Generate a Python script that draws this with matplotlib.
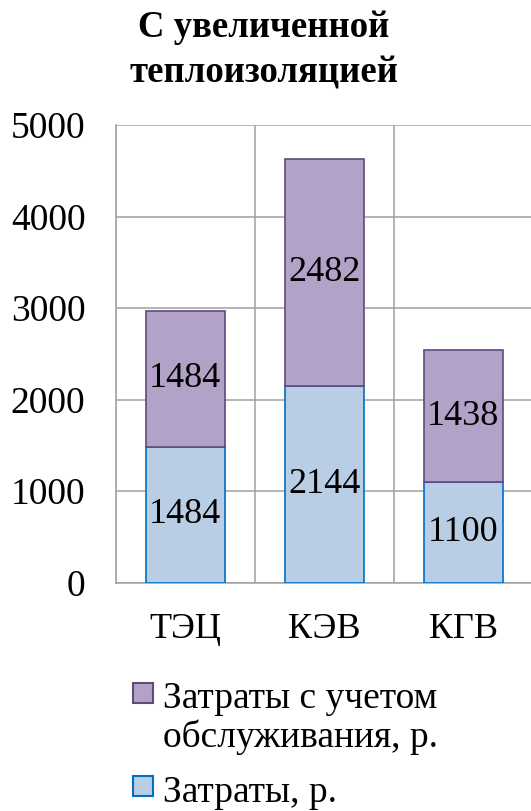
import matplotlib
matplotlib.use("Agg")
import matplotlib.pyplot as plt
from matplotlib.legend_handler import HandlerPatch
from matplotlib.patches import Rectangle

categories = ["ТЭЦ", "КЭВ", "КГВ"]
costs = [1484, 2144, 1100]
service_costs = [1484, 2482, 1438]
series_names = ["Затраты, р.", "Затраты с учетом\nобслуживания, р."]
y_ticks = [0, 1000, 2000, 3000, 4000, 5000]

plt.rcParams["font.family"] = ["Liberation Serif", "DejaVu Serif"]

W, H = 531, 811
fig = plt.figure(figsize=(W / 100, H / 100), dpi=100)
ax = fig.add_axes([116 / W, 1 - 582.5 / H, (533 - 116) / W, (582.5 - 125) / H])

x = list(range(len(categories)))
bar_w = 0.575

low = ax.bar(x, costs, width=bar_w, color="#B9CDE5", edgecolor="#0070C0",
             linewidth=1.2, zorder=3)
high = ax.bar(x, service_costs, width=bar_w, bottom=costs, color="#B3A2C7",
              edgecolor="#604A7B", linewidth=1.2, zorder=3)

ax.bar_label(low, label_type="center", fontsize=26)
ax.bar_label(high, label_type="center", fontsize=26)

ax.set_xlim(-0.5, len(categories) - 0.5)
ax.set_ylim(0, 5000)
ax.set_yticks(y_ticks)
ax.set_xticks(x)
ax.set_xticklabels(categories)
ax.set_xticks([i - 0.5 for i in range(len(categories) + 1)], minor=True)

ax.grid(True, axis="y", color="#A0A0A0", linewidth=1.1, zorder=0)
ax.grid(True, axis="x", which="minor", color="#A0A0A0", linewidth=1.1, zorder=0)
ax.set_axisbelow(True)
ax.tick_params(axis="both", which="both", length=0)
ax.tick_params(axis="y", pad=22, labelsize=27)
ax.tick_params(axis="x", pad=22, labelsize=26)
for side in ["top", "right"]:
    ax.spines[side].set_visible(False)
for side in ["left", "bottom"]:
    ax.spines[side].set_color("#A0A0A0")
    ax.spines[side].set_linewidth(1.1)

fig.text(0.497, 1 - 10 / H, "С увеличенной\nтеплоизоляцией", ha="center", va="top",
         fontsize=26.5, fontweight="bold", linespacing=1.4)


# legend marker sits next to the first line of a wrapped label
class TopPatch(HandlerPatch):
    def create_artists(self, legend, orig_handle, xdescent, ydescent,
                       width, height, fontsize, trans):
        lines = orig_handle.get_label().count("\n")
        shift = lines * fontsize * 0.6
        size = fontsize * 0.54
        p = Rectangle((-xdescent, -ydescent + shift + (height - size) / 2 + 2), size, size,
                      facecolor=orig_handle.get_facecolor(),
                      edgecolor=orig_handle.get_edgecolor(), linewidth=1.5,
                      transform=trans)
        return [p]


handles = [high.patches[0], low.patches[0]]
labels = [series_names[1], series_names[0]]
for h, name in zip(handles, labels):
    h.set_label(name)
leg = fig.legend(handles, labels,
                 handler_map={Rectangle: TopPatch()},
                 loc="upper left", bbox_to_anchor=(133 / W, 1 - 682 / H),
                 frameon=False, fontsize=27, borderpad=0, borderaxespad=0,
                 handlelength=0.54, handletextpad=0.25, labelspacing=0.55)
for t in leg.get_texts():
    t.set_linespacing(1.1)

fig.savefig("out.png", dpi=100)
